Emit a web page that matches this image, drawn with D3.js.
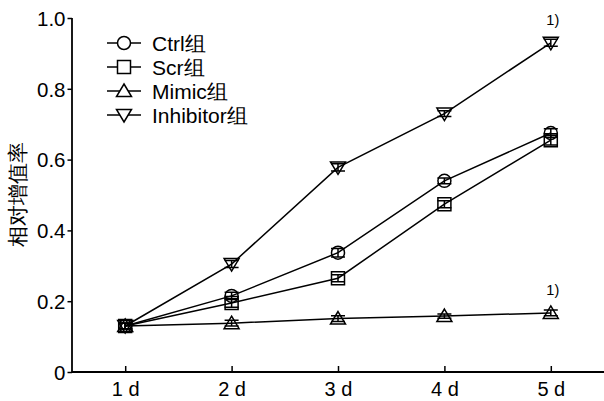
<!DOCTYPE html>
<html><head><meta charset="utf-8">
<script src="https://cdn.jsdelivr.net/npm/d3@7"></script>
<style>body{margin:0;background:#fff}svg{display:block}text{font-family:"Liberation Sans",Arial,sans-serif;fill:#000}</style>
</head><body><svg id="c" width="604" height="401"></svg>
<script>
const categories = ["1 d","2 d","3 d","4 d","5 d"];
const seriesNames = ["Ctrl组","Scr组","Mimic组","Inhibitor组"];
const ctrl = [0.13,0.215,0.337,0.54,0.675];
const scr = [0.13,0.195,0.265,0.474,0.655];
const mimic = [0.13,0.138,0.151,0.158,0.167];
const inhibitor = [0.13,0.305,0.578,0.73,0.93];
const ctrlErr = [0.008,0.01,0.012,0.008,0.012];
const scrErr = [0.008,0.012,0.01,0.01,0.014];
const mimicErr = [0.008,0.008,0.008,0.006,0.008];
const inhibitorErr = [0.008,0.01,0.01,0.008,0.01];
const yTicks = [0,0.2,0.4,0.6,0.8,1.0];
const yTickLabels = ["0","0.2","0.4","0.6","0.8","1.0"];
const annotations = [{series:3,idx:4,text:"1)"},{series:2,idx:4,text:"1)"}];
const yLabel = "相对增值率";

const series = [
  {name:seriesNames[0],values:ctrl,err:ctrlErr,shape:"circle"},
  {name:seriesNames[1],values:scr,err:scrErr,shape:"square"},
  {name:seriesNames[2],values:mimic,err:mimicErr,shape:"up"},
  {name:seriesNames[3],values:inhibitor,err:inhibitorErr,shape:"down"}
];

const svg = d3.select("#c");
const x = d3.scalePoint().domain(categories).range([72,604]).padding(0.5);
const y = d3.scaleLinear().domain([0,1]).range([372,18]);

function shapePath(s){
  if(s==="circle"){ const r=6.5; return `M${-r},0A${r},${r} 0 1,0 ${r},0A${r},${r} 0 1,0 ${-r},0Z`; }
  if(s==="square"){ const h=6.5; return `M${-h},${-h}H${h}V${h}H${-h}Z`; }
  if(s==="up"){ return "M0,-7L7.5,5.5L-7.5,5.5Z"; }
  return "M0,7L7.5,-5.5L-7.5,-5.5Z";
}

// axes
const yAxis = d3.axisLeft(y).tickValues(yTicks).tickFormat((d,i)=>yTickLabels[i]).tickSize(4.5).tickPadding(2);
const gy = svg.append("g").attr("transform","translate(72,0)").call(yAxis);
gy.select(".domain").attr("stroke-width",1.8).attr("d","M0,18V372");
gy.selectAll(".tick line").attr("stroke-width",1.5);
gy.selectAll("text").style("font-size","20.5px").attr("dy","0.36em");

const xAxis = d3.axisBottom(x).tickSize(-6).tickPadding(10);
const gx = svg.append("g").attr("transform","translate(0,372)").call(xAxis);
gx.select(".domain").attr("stroke-width",1.8).attr("d","M72,0H604");
gx.selectAll(".tick line").attr("stroke-width",1.5);
gx.selectAll("text").style("font-size","20px").attr("dy","0.71em");

svg.append("text").attr("transform","translate(17.5,194) rotate(-90)")
  .attr("text-anchor","middle").attr("dy","0.36em").style("font-size","20.5px").text(yLabel);

const line = d3.line().x((d,i)=>x(categories[i])).y(d=>y(d));
series.forEach(s=>{
  svg.append("path").attr("d",line(s.values)).attr("fill","none").attr("stroke","#000").attr("stroke-width",1.5);
});
series.forEach(s=>{
  const g = svg.append("g");
  s.values.forEach((v,i)=>{
    const cx = x(categories[i]), cy = y(v);
    g.append("path").attr("d",shapePath(s.shape)).attr("transform",`translate(${cx},${cy})`)
      .attr("fill","none").attr("stroke","#000").attr("stroke-width",1.5);
    const t = y(v+s.err[i]), b = y(v-s.err[i]);
    g.append("path").attr("d",`M${cx},${t}V${b}M${cx-7},${t}H${cx+7}M${cx-7},${b}H${cx+7}`)
      .attr("stroke","#000").attr("stroke-width",1.5).attr("fill","none");
  });
});

annotations.forEach(a=>{
  const s = series[a.series];
  svg.append("text").attr("x",x(categories[a.idx])+2).attr("y",y(s.values[a.idx])-18)
    .attr("text-anchor","middle").style("font-size","14.5px").text(a.text);
});

// legend
series.forEach((s,i)=>{
  const ly = 43 + i*24;
  const g = svg.append("g").attr("transform",`translate(0,${ly})`);
  g.append("path").attr("d","M107,0H141").attr("stroke","#000").attr("stroke-width",1.5);
  g.append("path").attr("d",shapePath(s.shape)).attr("transform","translate(124,0)")
    .attr("fill","#fff").attr("stroke","#000").attr("stroke-width",1.5);
  g.append("text").attr("x",152).attr("y",0).attr("dy","0.36em").style("font-size","21px").text(s.name);
});
</script></body></html>
